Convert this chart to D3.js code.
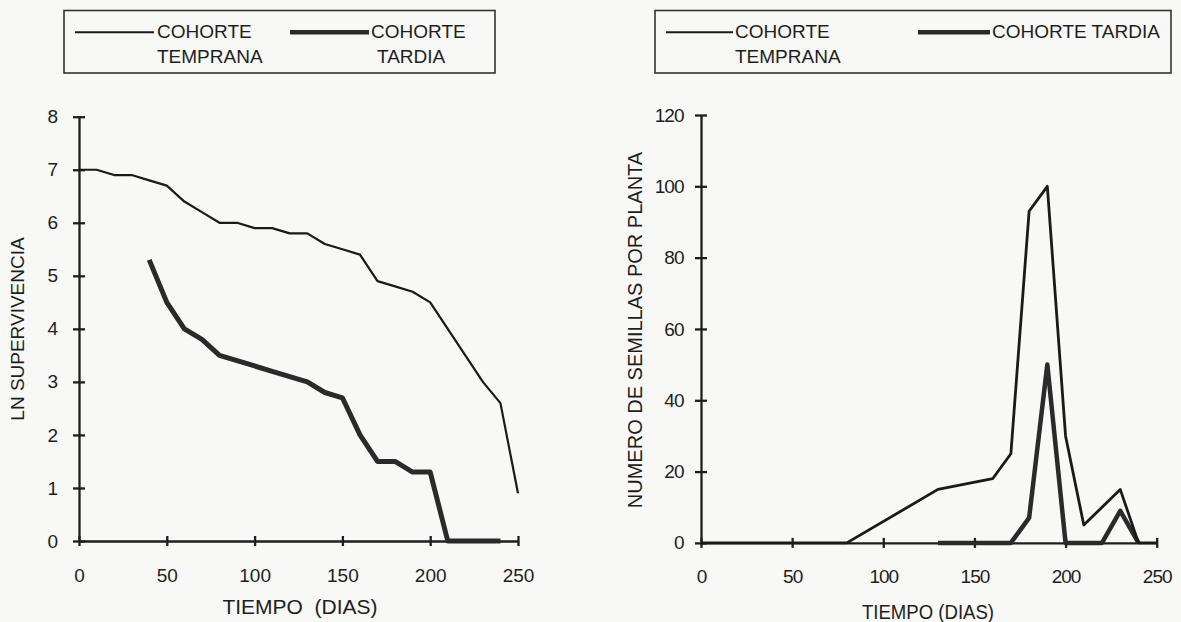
<!DOCTYPE html>
<html>
<head>
<meta charset="utf-8">
<script src="https://cdn.jsdelivr.net/npm/d3@7"></script>
<style>
  body { margin: 0; background: #f8f8f6; }
  svg { display: block; font-family: "Liberation Sans", Arial, sans-serif; }
  .axis path, .axis line { stroke: #1e1e1e; stroke-width: 2.3; }
  .axis text { fill: #1e1e1e; font-family: "Liberation Sans", Arial, sans-serif; }
</style>
</head>
<body>
<div id="chart"></div>
<script>
// ln supervivencia (left panel)
var survDays = [0, 10, 20, 30, 40, 50, 60, 70, 80, 90, 100, 110, 120, 130, 140, 150, 160, 170, 180, 190, 200, 210, 220, 230, 240, 250];
var survEarly = [7.0, 7.0, 6.9, 6.9, 6.8, 6.7, 6.4, 6.2, 6.0, 6.0, 5.9, 5.9, 5.8, 5.8, 5.6, 5.5, 5.4, 4.9, 4.8, 4.7, 4.5, 4.0, 3.5, 3.0, 2.6, 0.9];
var survLateDays = [40, 50, 60, 70, 80, 90, 100, 110, 120, 130, 140, 150, 160, 170, 180, 190, 200, 210, 220, 230, 240];
var survLate = [5.3, 4.5, 4.0, 3.8, 3.5, 3.4, 3.3, 3.2, 3.1, 3.0, 2.8, 2.7, 2.0, 1.5, 1.5, 1.3, 1.3, 0, 0, 0, 0];

// semillas por planta (right panel)
var seedEarlyDays = [0, 80, 130, 160, 170, 180, 190, 200, 210, 230, 240, 250];
var seedEarly = [0, 0, 15, 18, 25, 93, 100, 30, 5, 15, 0, 0];
var seedLateDays = [130, 170, 180, 190, 200, 220, 230, 240];
var seedLate = [0, 0, 7, 50, 0, 0, 9, 0];

var dayTicks = [0, 50, 100, 150, 200, 250];
var survTicks = [0, 1, 2, 3, 4, 5, 6, 7, 8];
var seedTicks = [0, 20, 40, 60, 80, 100, 120];

var svg = d3.select("#chart").append("svg").attr("width", 1181).attr("height", 622);

function zip(days, vals)
{
  return days.map(function(d, i) { return { day: d, v: vals[i] }; });
}

function buildPanel(p)
{
  var xScale = d3.scaleLinear().domain([0, 250]).range([p.left, p.right]);
  var yScale = d3.scaleLinear().domain([0, p.ymax]).range([p.bottom, p.top]);

  var xAxisCall = d3.axisBottom(xScale).tickValues(dayTicks).tickSizeOuter(0);
  var yAxisCall = d3.axisLeft(yScale).tickValues(p.yticks).tickSizeOuter(0);

  var gx = svg.append("g").attr("class", "x axis")
      .attr("transform", "translate(0," + p.bottom + ")").call(xAxisCall);
  gx.selectAll(".tick line").attr("y1", -5).attr("y2", 5);
  gx.selectAll(".tick text").attr("y", 40.5).attr("dy", null)
      .style("font-size", "19px").style("letter-spacing", p.spacing);

  var gy = svg.append("g").attr("class", "y axis")
      .attr("transform", "translate(" + p.left + ",0)").call(yAxisCall);
  gy.selectAll(".tick line").attr("x1", -6).attr("x2", 6);
  gy.selectAll(".tick text").attr("x", p.labelGap)
      .style("font-size", "19px").style("letter-spacing", p.spacing);

  var valueline = d3.line()
      .x(function(d) { return xScale(d.day); })
      .y(function(d) { return yScale(d.v); });

  svg.append("path").datum(zip(p.lateDays, p.late))
      .attr("fill", "none").attr("stroke", "#2a2a2a").attr("stroke-width", p.thick)
      .attr("stroke-linejoin", "round").attr("d", valueline);
  svg.append("path").datum(zip(p.earlyDays, p.early))
      .attr("fill", "none").attr("stroke", "#1a1a1a").attr("stroke-width", p.thin)
      .attr("stroke-linejoin", "round").attr("d", valueline);

  // text label for the axes
  svg.append("text")
      .attr("transform", "translate(" + p.ytitleX + "," + p.ytitleY + ") rotate(-90)")
      .attr("dy", "0.35em")
      .style("text-anchor", "middle").style("font-size", p.ytitleSize + "px").attr("fill", "#1e1e1e")
      .text(p.ytitle);
  var xt = svg.append("text")
      .attr("x", p.xtitleX).attr("y", p.xtitleY)
      .style("text-anchor", "middle").style("font-size", p.xtitleSize + "px").attr("fill", "#1e1e1e")
      .style("white-space", "pre")
      .text(p.xtitle);
  if (p.xtitleLen)
  {
    xt.attr("textLength", p.xtitleLen).attr("lengthAdjust", "spacingAndGlyphs");
  }
}

function legend(box)
{
  var g = svg.append("g");
  g.append("rect").attr("x", box.x).attr("y", 10.5).attr("width", box.w).attr("height", 62.5)
      .attr("fill", "none").attr("stroke", "#333").attr("stroke-width", 1.6);
  g.append("line").attr("x1", box.thin[0]).attr("x2", box.thin[1]).attr("y1", 32.3).attr("y2", 32.3)
      .attr("stroke", "#1a1a1a").attr("stroke-width", 2);
  g.append("line").attr("x1", box.thick[0]).attr("x2", box.thick[1]).attr("y1", 32.3).attr("y2", 32.3)
      .attr("stroke", "#2a2a2a").attr("stroke-width", 4.5);
  box.labels.forEach(function(l)
  {
    g.append("text").attr("x", l[0]).attr("y", l[1])
        .style("font-size", "19px").attr("fill", "#1e1e1e")
        .text(l[2]);
  });
}

buildPanel({
  left: 79, right: 518, top: 116.7, bottom: 541, ymax: 8, yticks: survTicks, labelGap: -21, spacing: "0px",
  thin: 2.2, thick: 5,
  earlyDays: survDays, early: survEarly, lateDays: survLateDays, late: survLate,
  ytitle: "LN SUPERVIVENCIA", ytitleX: 17, ytitleY: 329, ytitleSize: 19,
  xtitle: "TIEMPO  (DIAS)", xtitleX: 300, xtitleY: 614, xtitleSize: 21
});
buildPanel({
  left: 701, right: 1156.7, top: 115, bottom: 542.9, ymax: 120, yticks: seedTicks, labelGap: -17.5, spacing: "-1px",
  thin: 2.8, thick: 4.5,
  earlyDays: seedEarlyDays, early: seedEarly, lateDays: seedLateDays, late: seedLate,
  ytitle: "NUMERO DE SEMILLAS POR PLANTA", ytitleX: 635, ytitleY: 330, ytitleSize: 20,
  xtitle: "TIEMPO (DIAS)", xtitleX: 928, xtitleY: 619, xtitleSize: 20, xtitleLen: 132
});

legend({ x: 64, w: 431, thin: [75, 154], thick: [290, 369],
  labels: [[157, 38, "COHORTE"], [157, 63, "TEMPRANA"],
           [371, 38, "COHORTE"], [377, 63, "TARDIA"]] });
legend({ x: 655, w: 516, thin: [666, 733], thick: [918, 990],
  labels: [[735, 38, "COHORTE"], [735, 63, "TEMPRANA"], [992, 38, "COHORTE TARDIA"]] });
</script>
</body>
</html>
